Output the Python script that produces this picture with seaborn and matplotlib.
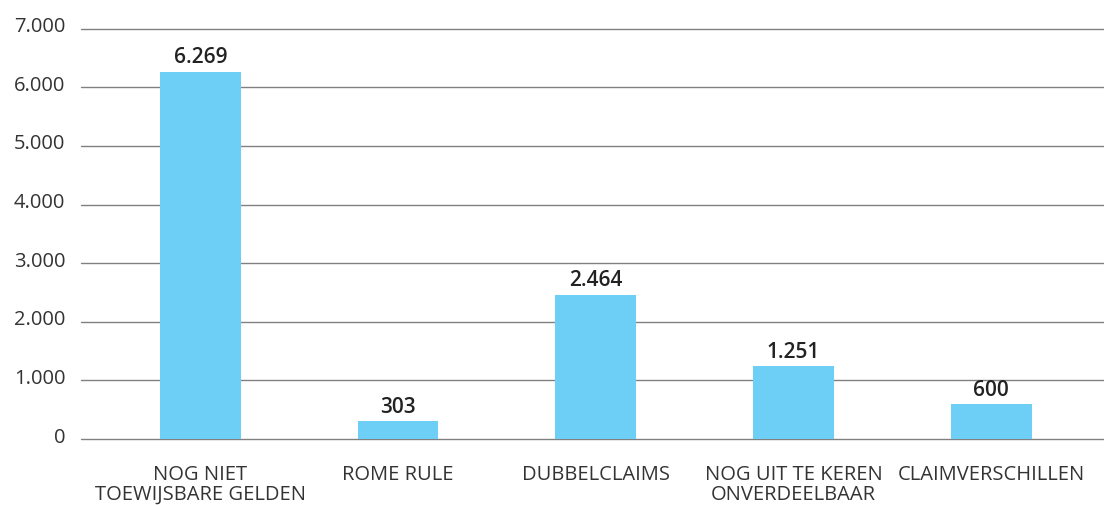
import pandas as pd
import matplotlib.pyplot as plt
import matplotlib.transforms as mtransforms
import seaborn as sns

# data
categories = ["NOG NIET\nTOEWIJSBARE GELDEN", "ROME RULE", "DUBBELCLAIMS",
              "NOG UIT TE KEREN\nONVERDEELBAAR", "CLAIMVERSCHILLEN"]
values = [6269, 303, 2464, 1251, 600]
y_ticks = [0, 1000, 2000, 3000, 4000, 5000, 6000, 7000]

df = pd.DataFrame({"categorie": categories, "waarde": values})

sns.set_theme(style="whitegrid")
plt.rcParams["font.family"] = ["Open Sans", "DejaVu Sans"]

text_color = "#333333"
bar_color = "#6DCFF6"

fig = plt.figure(figsize=(11.04, 5.06), dpi=100)
ax = fig.add_axes([0.0731, 0.1304, 1 - 0.0731, 0.9413 - 0.1304])

sns.barplot(data=df, x="categorie", y="waarde", color=bar_color,
            saturation=1, width=0.408, linewidth=0, ax=ax, zorder=3)

# value labels above bars
for i, v in enumerate(values):
    ax.annotate(f"{v:,}".replace(",", "."), xy=(i, v), xytext=(0, 3),
                textcoords="offset points", ha="center", va="bottom",
                fontsize=15, fontweight="semibold", color="#222222")

ax.set_ylim(0, 7000)
ax.set_xlim(-0.605, 4.57)
ax.set_yticks(y_ticks)
ax.set_yticklabels([f"{t:,}".replace(",", ".") for t in y_ticks])
ax.set_xlabel("")
ax.set_ylabel("")

ax.grid(axis="y", color="#808080", linewidth=1.0)
ax.grid(axis="x", visible=False)
ax.set_axisbelow(True)
for line in ax.get_ygridlines():
    line.set_clip_on(False)
for s in ax.spines.values():
    s.set_visible(False)

ax.tick_params(axis="y", length=0, pad=11, labelsize=14.5, labelcolor=text_color)
ax.tick_params(axis="x", length=0, pad=18, labelsize=14.5, labelcolor=text_color)
for lbl in ax.get_xticklabels():
    lbl.set_linespacing(1.0)

# y tick labels sit slightly above their gridlines
offset = mtransforms.ScaledTranslation(0, 0.05, fig.dpi_scale_trans)
for lbl in ax.get_yticklabels():
    lbl.set_transform(lbl.get_transform() + offset)

fig.savefig("out.png", dpi=100)
